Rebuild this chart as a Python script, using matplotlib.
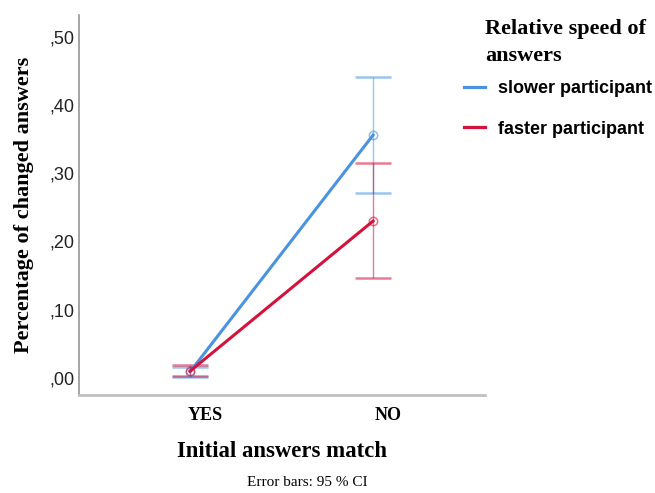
"""
Profile plot: percentage of changed answers by initial match and relative speed
"""

import matplotlib.pyplot as plt
from matplotlib.transforms import ScaledTranslation

categories = ['YES', 'NO']
groups = ['slower participant', 'faster participant']
colors = ['#4a93e0', '#d3133c']

means = {
    'slower participant': [0.009, 0.356],
    'faster participant': [0.010, 0.230],
}
ci_low = {
    'slower participant': [0.001, 0.271],
    'faster participant': [0.003, 0.147],
}
ci_high = {
    'slower participant': [0.016, 0.441],
    'faster participant': [0.019, 0.315],
}
yticks = [0.0, 0.1, 0.2, 0.3, 0.4, 0.5]
ytick_labels = [',00', ',10', ',20', ',30', ',40', ',50']

serif = 'Liberation Serif'
sans = 'Liberation Sans'

fig = plt.figure(figsize=(6.55, 4.93), dpi=100)
ax = fig.add_axes([0.1206, 0.1988, 0.62, 0.7708])

x = list(range(len(categories)))
for g, c in zip(groups, colors):
    m = means[g]
    lo = [a - b for a, b in zip(m, ci_low[g])]
    hi = [b - a for a, b in zip(m, ci_high[g])]
    ax.errorbar(x, m, yerr=[lo, hi], fmt='none', ecolor=c, elinewidth=1.0,
                capsize=13, capthick=1.8, alpha=0.55, zorder=2)
    ax.plot(x, m, color=c, lw=2.2, label=g, zorder=3)
    ax.plot(x, m, 'o', ms=6, mfc='none', mec=c, mew=1.1, alpha=0.6, zorder=3)

ax.set_xlim(-0.607, 1.612)
ax.set_ylim(-0.025, 0.532)
ax.set_xticks(x)
ax.set_xticklabels(categories, fontfamily=serif, fontweight='bold', fontsize=13)
ax.set_yticks(yticks)
ax.set_yticklabels(ytick_labels, fontfamily=sans, fontsize=13, color='#222222')
ax.tick_params(length=0, pad=3)
ax.tick_params(axis='x', pad=9)
# category labels sit a little right of the points, as in the original
shift = ScaledTranslation(15 / 100, 0, fig.dpi_scale_trans)
for lab in ax.get_xticklabels():
    lab.set_transform(lab.get_transform() + shift)

for s in ['top', 'right']:
    ax.spines[s].set_visible(False)
ax.spines['left'].set_color('#8c8c8c')
ax.spines['bottom'].set_color('#c0c0c0')
ax.spines['left'].set_linewidth(1.1)
ax.spines['bottom'].set_linewidth(2)

ax.set_ylabel('Percentage of changed answers', fontfamily=serif,
              fontweight='bold', fontsize=16, labelpad=11)
ax.set_xlabel('Initial answers match', fontfamily=serif, fontweight='bold',
              fontsize=16.4, labelpad=12)

fig.text(0.469, 0.008, 'Error bars: 95 % CI', fontfamily=serif, fontsize=11,
         ha='center', va='bottom')
fig.text(0.7405, 0.962, 'Relative speed of\nanswers', fontfamily=serif,
         fontweight='bold', fontsize=16, ha='left', va='top', linespacing=1.5)

leg = fig.legend(loc='upper left', bbox_to_anchor=(0.683, 0.870), frameon=False,
                 handlelength=1.2, handletextpad=0.7, labelspacing=1.3,
                 prop={'family': sans, 'weight': 'bold', 'size': 13})
for h in leg.legend_handles:
    h.set_linewidth(2.3)

fig.savefig('out.png', dpi=100)
